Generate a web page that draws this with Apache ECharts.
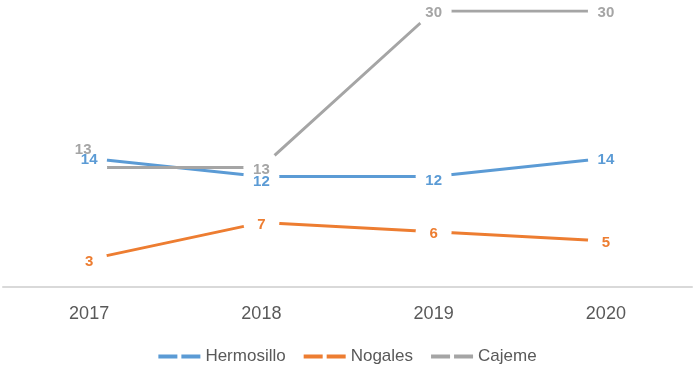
<!DOCTYPE html>
<html>
<head>
<meta charset="utf-8">
<script src="https://cdn.jsdelivr.net/npm/echarts@6/dist/echarts.min.js"></script>
<style>
    html, body { margin: 0; padding: 0; background: #fff; }
    #chart { width: 695px; height: 371px; }
</style>
</head>
<body>
<div id="chart"></div>
<script>
// data
const years = ['2017', '2018', '2019', '2020'];
const seriesNames = ['Hermosillo', 'Nogales', 'Cajeme'];
const hermosillo = [14, 12, 12, 14];
const nogales = [3, 7, 6, 5];
const cajeme = [13, 13, 30, 30];
const colors = ['#5B9BD5', '#ED7D31', '#A5A5A5'];

const fontName = '"Liberation Sans", Arial, sans-serif';
// legend line with the white marker gap in the middle
const legendIcon = 'path://M0,0H19V4H0Z M23,0H42V4H23Z';

// labels that Excel nudged to avoid overlap
const labelOffsets = {
    'Cajeme-0': [-6, -18],
    'Hermosillo-1': [0, 5],
    'Hermosillo-2': [0, 4]
};

function buildSeries(name, values, i) {
    let data = [];
    for (let k = 0; k < values.length; k++) {
        let item = { value: values[k] };
        let off = labelOffsets[name + '-' + k];
        if (off) {
            item.label = { offset: off };
        }
        data.push(item);
    }
    return {
        name: name,
        type: 'line',
        data: data,
        symbol: 'circle',
        symbolSize: 36,
        itemStyle: { color: '#ffffff', borderWidth: 0 },
        lineStyle: { color: colors[i], width: 3 },
        label: {
            show: true,
            position: 'inside',
            offset: [0, 2],
            color: colors[i],
            fontFamily: fontName,
            fontWeight: 'bold',
            fontSize: 15
        },
        emphasis: { disabled: true },
        animation: false
    };
}

const chart = echarts.init(document.getElementById('chart'));

let option = {
    backgroundColor: '#ffffff',
    grid: { left: 3, right: 3, top: 11, bottom: 84 },
    legend: {
        bottom: 1,
        left: 'center',
        itemWidth: 42,
        itemHeight: 4,
        itemGap: 18,
        icon: legendIcon,
        textStyle: { color: '#595959', fontSize: 17, fontFamily: fontName },
        data: seriesNames.map(function (n, i) {
            return { name: n, itemStyle: { color: colors[i] } };
        })
    },
    xAxis: {
        type: 'category',
        data: years,
        boundaryGap: true,
        axisLine: { lineStyle: { color: '#d9d9d9', width: 2 } },
        axisTick: { show: false },
        axisLabel: { color: '#595959', fontSize: 18, fontFamily: fontName, margin: 18 }
    },
    yAxis: {
        type: 'value',
        min: 0,
        max: 30,
        show: false,
        splitLine: { show: false }
    },
    series: [
        buildSeries('Hermosillo', hermosillo, 0),
        buildSeries('Nogales', nogales, 1),
        buildSeries('Cajeme', cajeme, 2)
    ]
};

chart.setOption(option);
</script>
</body>
</html>
